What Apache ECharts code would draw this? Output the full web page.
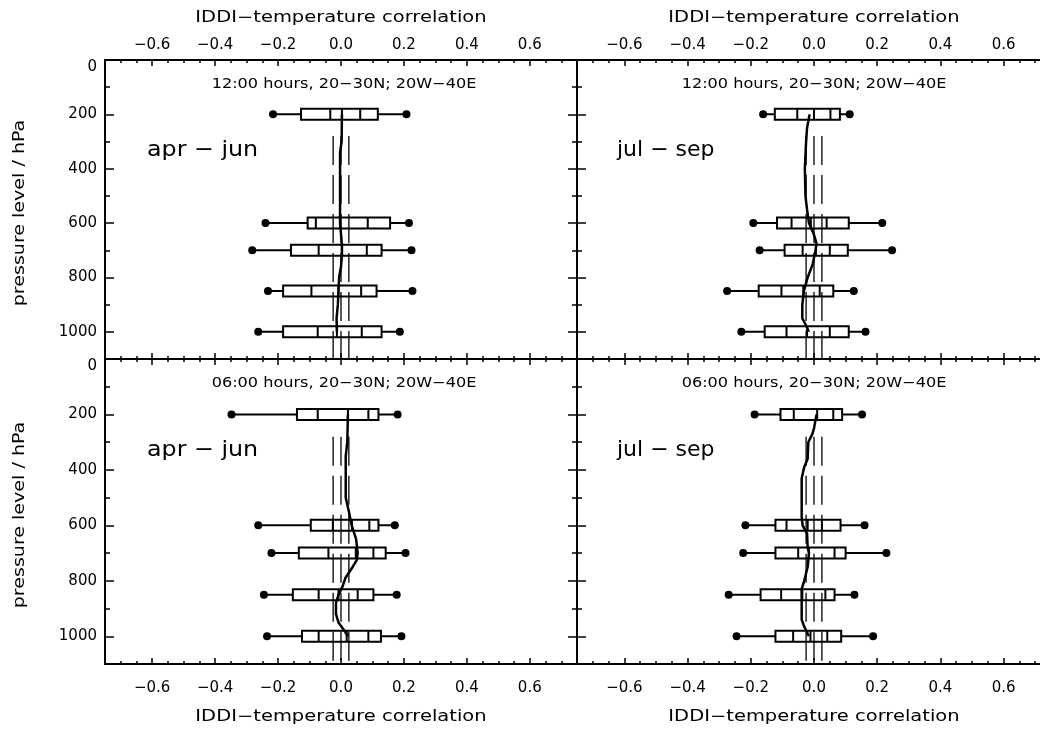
<!DOCTYPE html>
<html><head><meta charset="utf-8">
<script src="https://cdn.jsdelivr.net/npm/echarts@6/dist/echarts.min.js"></script>
<style>html,body{margin:0;padding:0;background:#fff}#c{width:1040px;height:730px}</style>
</head><body><div id="c"></div>
<script>
// ---------- data ----------
const levels = [200, 600, 700, 850, 1000];           // hPa levels of the box plots
// each row: [min, p10, p25, median, p75, p90, max]
const boxesTopLeft = [
  [-0.216, -0.127, -0.034, 0.003, 0.061, 0.117, 0.208],
  [-0.240, -0.106, -0.080, -0.003, 0.085, 0.156, 0.216],
  [-0.282, -0.159, -0.071, 0.003, 0.082, 0.129, 0.224],
  [-0.232, -0.184, -0.094, -0.008, 0.064, 0.113, 0.227],
  [-0.263, -0.184, -0.074, -0.013, 0.066, 0.129, 0.187]
];
const boxesTopRight = [
  [-0.161, -0.124, -0.053, 0.000, 0.052, 0.082, 0.113],
  [-0.192, -0.117, -0.071, -0.010, 0.040, 0.110, 0.216],
  [-0.172, -0.093, -0.036, 0.006, 0.050, 0.107, 0.247],
  [-0.275, -0.175, -0.103, -0.034, 0.018, 0.061, 0.126],
  [-0.230, -0.156, -0.087, -0.022, 0.050, 0.110, 0.163]
];
const boxesBottomLeft = [
  [-0.348, -0.140, -0.074, 0.022, 0.087, 0.119, 0.180],
  [-0.263, -0.096, -0.026, 0.035, 0.090, 0.119, 0.171],
  [-0.221, -0.134, -0.040, 0.047, 0.103, 0.142, 0.205],
  [-0.245, -0.153, -0.071, -0.008, 0.053, 0.103, 0.177],
  [-0.235, -0.124, -0.071, 0.018, 0.087, 0.127, 0.192]
];
const boxesBottomRight = [
  [-0.188, -0.106, -0.064, 0.010, 0.061, 0.089, 0.152],
  [-0.217, -0.122, -0.087, -0.020, 0.025, 0.084, 0.160],
  [-0.224, -0.122, -0.050, -0.016, 0.065, 0.100, 0.229],
  [-0.270, -0.169, -0.104, -0.037, 0.036, 0.065, 0.128],
  [-0.245, -0.122, -0.066, -0.011, 0.042, 0.086, 0.187]
];
// median profiles: [pressure, correlation]
const profileTopLeft = [[200,0.003],[300,0.002],[340,-0.003],[600,-0.003],[680,0.003],[720,0.003],[760,0.0],[800,-0.006],[850,-0.008],[900,-0.010],[950,-0.014],[1000,-0.013]];
const profileTopRight = [[200,-0.014],[250,-0.022],[300,-0.025],[400,-0.029],[500,-0.027],[550,-0.022],[600,-0.016],[640,-0.001],[675,0.008],[700,0.005],[750,-0.004],[800,-0.020],[850,-0.032],[900,-0.037],[950,-0.037],[975,-0.026],[1000,-0.016]];
const profileBottomLeft = [[200,0.022],[300,0.020],[350,0.015],[500,0.015],[550,0.025],[600,0.034],[650,0.048],[700,0.053],[725,0.050],[750,0.037],[790,0.014],[820,0.005],[850,-0.008],[880,-0.016],[920,-0.016],[950,-0.008],[980,0.011],[1000,0.022]];
const profileBottomRight = [[200,0.008],[250,0.000],[270,-0.005],[300,-0.018],[360,-0.020],[390,-0.031],[430,-0.039],[570,-0.039],[600,-0.036],[630,-0.022],[680,-0.020],[700,-0.016],[750,-0.020],[800,-0.031],[830,-0.039],[940,-0.039],[965,-0.031],[1000,-0.016]];
const thresholds = [-0.025, 0, 0.025];
const thresholdTop = 280;
const xTickLabels = [-0.6, -0.4, -0.2, 0, 0.2, 0.4, 0.6];
const xMinorTicks = [-0.7,-0.65,-0.55,-0.5,-0.45,-0.35,-0.3,-0.25,-0.15,-0.1,-0.05,0.05,0.1,0.15,0.25,0.3,0.35,0.45,0.5,0.55,0.65,0.7];
const yTickLabels = [0, 200, 400, 600, 800, 1000];
const yMinorTicks = [100, 300, 500, 700, 900];
const panelTitles = ['12:00 hours, 20\u221230N; 20W\u221240E', '12:00 hours, 20\u221230N; 20W\u221240E', '06:00 hours, 20\u221230N; 20W\u221240E', '06:00 hours, 20\u221230N; 20W\u221240E'];
const seasons = ['apr \u2212 jun', 'jul \u2212 sep', 'apr \u2212 jun', 'jul \u2212 sep'];
const xName = 'IDDI\u2212temperature correlation';
const yName = 'pressure level / hPa';

// ---------- layout ----------
const FONT = 'DejaVu Sans';
const grids = [
  {left:105, top:60, width:472, height:299, outerBoundsMode:'none'},
  {left:577, top:60, width:474, height:299, outerBoundsMode:'none'},
  {left:105, top:359, width:472, height:305, outerBoundsMode:'none'},
  {left:577, top:359, width:474, height:305, outerBoundsMode:'none'}
];
const boxes = [boxesTopLeft, boxesTopRight, boxesBottomLeft, boxesBottomRight];
const profiles = [profileTopLeft, profileTopRight, profileBottomLeft, profileBottomRight];

const axisLine = {show:true, onZero:false, lineStyle:{color:'#000', width:2}};
const fmtX = v => (v < -1e-9 ? '\u2212' : '') + Math.abs(v).toFixed(1);

const xAxes = [], yAxes = [];
grids.forEach((g, gi) => {
  const isTop = gi < 2;
  ['bottom', 'top'].forEach(pos => {
    const showLab = (pos === 'top' && isTop) || (pos === 'bottom' && !isTop);
    xAxes.push({type:'value', gridIndex:gi, position:pos, min:-0.75, max:0.75, interval:0.05,
      axisLine, splitLine:{show:false},
      axisTick:{show:true, inside:true, length:3, customValues:xMinorTicks, lineStyle:{color:'#000', width:1.5}},
      axisLabel:{show:false}});
    xAxes.push({type:'value', gridIndex:gi, position:pos, min:-0.75, max:0.75, interval:0.05,
      axisLine, splitLine:{show:false},
      axisTick:{show:true, inside:true, length:6, customValues:xTickLabels, lineStyle:{color:'#000', width:1.5}},
      axisLabel:{show:showLab, customValues:xTickLabels, formatter:fmtX, fontFamily:FONT, fontSize:15, color:'#000',
        margin: pos === 'top' ? 7 : 17}});
  });
  ['left', 'right'].forEach(pos => {
    const showLab = pos === 'left' && (gi === 0 || gi === 2);
    yAxes.push({type:'value', gridIndex:gi, position:pos, min:0, max:1100, inverse:true, interval:100,
      axisLine, splitLine:{show:false},
      axisTick:{show:true, inside:true, length:5, customValues:yMinorTicks, lineStyle:{color:'#000', width:1.5}},
      axisLabel:{show:false}});
    yAxes.push({type:'value', gridIndex:gi, position:pos, min:0, max:1100, inverse:true, interval:100,
      axisLine, splitLine:{show:false},
      axisTick:{show:true, inside:true, length:9, customValues:yTickLabels, lineStyle:{color:'#000', width:1.5}},
      axisLabel:{show:showLab, customValues:yTickLabels, fontFamily:FONT, fontSize:15, color:'#000', margin:8,
        formatter: v => v === 0 ? '{z|0}' : String(v),
        rich:{z:{fontFamily:FONT, fontSize:15, color:'#000', padding:[14,0,0,0]}}}});
  });
});

function renderBox(params, api) {
  const y = api.value(0);
  const p = [1,2,3,4,5,6,7].map(i => api.coord([api.value(i), y]));
  const cy = p[0][1];
  const h = 11;
  const st = {stroke:'#000', lineWidth:2};
  const children = [
    {type:'line', shape:{x1:p[0][0], y1:cy, x2:p[6][0], y2:cy}, style:st},
    {type:'rect', shape:{x:p[1][0], y:cy - h/2, width:p[5][0] - p[1][0], height:h}, style:{fill:'#fff', stroke:'#000', lineWidth:2}}
  ];
  [2,3,4].forEach(k => children.push({type:'line', shape:{x1:p[k][0], y1:cy - h/2, x2:p[k][0], y2:cy + h/2}, style:st}));
  [0,6].forEach(k => children.push({type:'circle', shape:{cx:p[k][0], cy:cy, r:4}, style:{fill:'#000'}}));
  return {type:'group', children};
}

const series = [];
grids.forEach((g, gi) => {
  const xi = gi * 4 + 1, yi = gi * 4 + 1;
  series.push({type:'custom', xAxisIndex:xi, yAxisIndex:yi, z:2, renderItem:renderBox,
    encode:{x:[1,2,3,4,5,6,7], y:0},
    data: boxes[gi].map((b, i) => [levels[i]].concat(b))});
  thresholds.forEach(t => series.push({type:'line', xAxisIndex:xi, yAxisIndex:yi, z:3, symbol:'none',
    lineStyle:{color:'#000', width:1.3, type:[29,10]}, data:[[t, thresholdTop],[t, 1100]]}));
  series.push({type:'line', xAxisIndex:xi, yAxisIndex:yi, z:4, symbol:'none',
    lineStyle:{color:'#000', width:2.5}, data: profiles[gi].map(d => [d[1], d[0]])});
});

const txt = (x, y, text, size, extra, sx) => ({type:'text', x, y, z:10, scaleX: sx || 1,
  style:Object.assign({text, fontFamily:FONT, fontSize:size, fill:'#000', align:'center', verticalAlign:'middle'}, extra || {})});
const graphic = [
  txt(341, 18, xName, 15, null, 1.3), txt(814, 18, xName, 15, null, 1.3),
  txt(341, 717, xName, 15, null, 1.3), txt(814, 717, xName, 15, null, 1.3),
  txt(344, 84, panelTitles[0], 14, null, 1.15), txt(814, 84, panelTitles[1], 14, null, 1.15),
  txt(344, 383, panelTitles[2], 14, null, 1.15), txt(814, 383, panelTitles[3], 14, null, 1.15),
  txt(147, 150, seasons[0], 22, {align:'left'}, 1.08), txt(617, 150, seasons[1], 22, {align:'left'}, 1.0),
  txt(147, 450, seasons[2], 22, {align:'left'}, 1.08), txt(617, 450, seasons[3], 22, {align:'left'}, 1.0),
  Object.assign(txt(20, 213, yName, 15, null, 1.27), {rotation:Math.PI/2}),
  Object.assign(txt(20, 515, yName, 15, null, 1.27), {rotation:Math.PI/2})
];

const chart = echarts.init(document.getElementById('c'), null, {renderer:'canvas'});
chart.setOption({animation:false, backgroundColor:'#fff', grid:grids, xAxis:xAxes, yAxis:yAxes, series, graphic});
</script></body></html>
